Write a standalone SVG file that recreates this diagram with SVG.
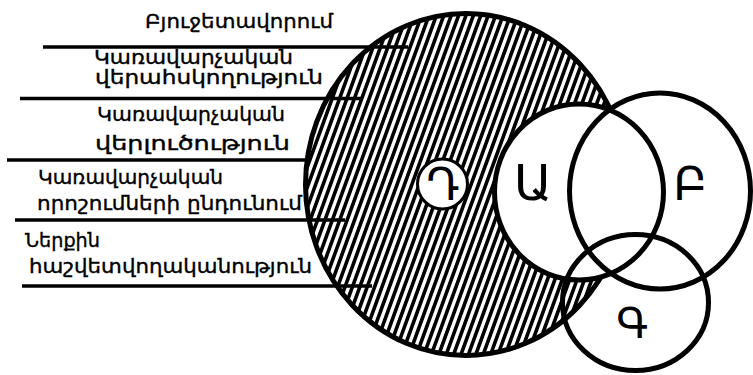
<svg xmlns="http://www.w3.org/2000/svg" width="753" height="375" viewBox="0 0 753 375">
<style>
.lbl{font-family:"DejaVu Sans","Noto Sans",sans-serif;font-size:19px;fill:#000;stroke:#000;stroke-width:0.35}
.big{font-family:"DejaVu Sans","Noto Sans",sans-serif;fill:#000;text-anchor:middle}
.ring{stroke:#000;stroke-width:5}
.rule{stroke:#000;stroke-width:3.5;fill:none}
.hatch{stroke:#000;stroke-width:3.6;fill:none}
</style>
<defs>
<clipPath id="bigclip">
<ellipse cx="466" cy="184.5" rx="160.5" ry="171"/>
</clipPath>
</defs>
<rect width="753" height="375" fill="#fff"/>
<g id="node-D-area">
<ellipse cx="466" cy="184.5" rx="160.5" ry="171" fill="#fff"/>
<path class="hatch" clip-path="url(#bigclip)" d="M200 360l129.2-355m-121.8 355l129.2-355m-121.8 355l129.2-355m-121.8 355l129.2-355m-121.8 355l129.2-355m-121.8 355l129.2-355m-121.8 355l129.2-355m-121.8 355l129.2-355m-121.8 355l129.2-355m-121.8 355l129.2-355m-121.8 355l129.2-355m-121.8 355l129.2-355m-121.8 355l129.2-355m-121.8 355l129.2-355m-121.8 355l129.2-355m-121.8 355l129.2-355m-121.8 355l129.2-355m-121.8 355l129.2-355m-121.8 355l129.2-355m-121.8 355l129.2-355m-121.8 355l129.2-355m-121.8 355l129.2-355m-121.8 355l129.2-355m-121.8 355l129.2-355m-121.8 355l129.2-355m-121.8 355l129.2-355m-121.8 355l129.2-355m-121.8 355l129.2-355m-121.8 355l129.2-355m-121.8 355l129.2-355m-121.8 355l129.2-355m-121.8 355l129.2-355m-121.8 355l129.2-355m-121.8 355l129.2-355m-121.8 355l129.2-355m-121.8 355l129.2-355m-121.8 355l129.2-355m-121.8 355l129.2-355m-121.8 355l129.2-355m-121.8 355l129.2-355m-121.8 355l129.2-355m-121.8 355l129.2-355m-121.8 355l129.2-355m-121.8 355l129.2-355m-121.8 355l129.2-355m-121.8 355l129.2-355m-121.8 355l129.2-355m-121.8 355l129.2-355m-121.8 355l129.2-355m-121.8 355l129.2-355m-121.8 355l129.2-355m-121.8 355l129.2-355m-121.8 355l129.2-355m-121.8 355l129.2-355"/>
<ellipse cx="466" cy="184.5" rx="160.5" ry="171" fill="none" class="ring"/>
</g>
<g id="connectors">
<line class="rule" x1="43" y1="47" x2="408" y2="47"/>
<line class="rule" x1="20" y1="98.5" x2="363" y2="98.5"/>
<line class="rule" x1="7" y1="160" x2="306" y2="160"/>
<line class="rule" x1="15" y1="220" x2="345" y2="220"/>
<line class="rule" x1="22" y1="286" x2="372" y2="286"/>
</g>
<g id="node-A">
<ellipse cx="579" cy="192" rx="84.5" ry="88" fill="#fff" class="ring"/>
<text class="big" x="533" y="200" font-size="50">Ա</text>
</g>
<g id="node-D">
<circle cx="442.5" cy="184" r="25" fill="#fff" stroke="#000" stroke-width="3"/>
<text class="big" x="443" y="200" font-size="44">Դ</text>
</g>
<g id="node-B">
<ellipse cx="660" cy="191" rx="90.5" ry="98" fill="none" class="ring"/>
<text class="big" x="690" y="200" font-size="46">Բ</text>
</g>
<g id="node-G">
<ellipse cx="635.5" cy="302.5" rx="73" ry="68" fill="none" class="ring"/>
<text class="big" x="632" y="338" font-size="42">Գ</text>
</g>
<g id="labels">
<text class="lbl" x="145" y="28" textLength="188" lengthAdjust="spacingAndGlyphs">Բյուջետավորում</text>
<text class="lbl" x="94" y="64" textLength="199" lengthAdjust="spacingAndGlyphs">Կառավարչական</text>
<text class="lbl" x="95" y="84" textLength="228" lengthAdjust="spacingAndGlyphs">վերահսկողություն</text>
<text class="lbl" x="97" y="121" textLength="188" lengthAdjust="spacingAndGlyphs">Կառավարչական</text>
<text class="lbl" x="95" y="150" textLength="195" lengthAdjust="spacingAndGlyphs">վերլուծություն</text>
<text class="lbl" x="38" y="184" textLength="185" lengthAdjust="spacingAndGlyphs">Կառավարչական</text>
<text class="lbl" x="37" y="210" textLength="265" lengthAdjust="spacingAndGlyphs">որոշումների ընդունում</text>
<text class="lbl" x="25" y="247" textLength="75" lengthAdjust="spacingAndGlyphs">Ներքին</text>
<text class="lbl" x="29" y="273" textLength="283" lengthAdjust="spacingAndGlyphs">հաշվետվողականություն</text>
</g>
</svg>
